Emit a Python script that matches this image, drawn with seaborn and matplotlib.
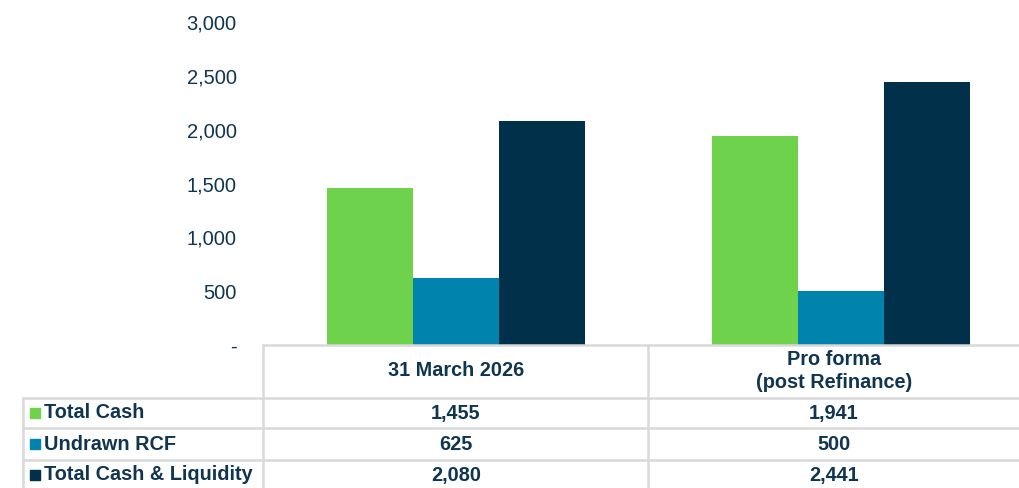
import pandas as pd
import numpy as np
import seaborn as sns
import matplotlib.pyplot as plt
from matplotlib.ticker import FuncFormatter
from matplotlib.lines import Line2D
from matplotlib.patches import Rectangle

# chart data
periods = ["31 March 2026", "Pro forma\n(post Refinance)"]
series = ["Total Cash", "Undrawn RCF", "Total Cash & Liquidity"]
total_cash = [1455, 1941]
undrawn_rcf = [625, 500]
total_liquidity = [2080, 2441]
y_ticks = [0, 500, 1000, 1500, 2000, 2500, 3000]

colors = ["#6fd24c", "#0083ad", "#00304a"]
text_col = "#0f3550"
grid_col = "#d9d9d9"

df = pd.DataFrame({
    "period": periods * 3,
    "series": np.repeat(series, len(periods)),
    "value": total_cash + undrawn_rcf + total_liquidity,
})

sns.set_style("white")
plt.rcParams["font.family"] = ["Liberation Sans", "DejaVu Sans"]

W, H = 1020, 488
fig = plt.figure(figsize=(W / 100, H / 100), dpi=100)

def fx(px):
    return px / W

def fy(py):
    return 1 - py / H

# bar axes: x 263..1020, y 22..345 (pixels)
ax = fig.add_axes([fx(263), fy(345), fx(1020 - 263), (345 - 22) / H])
sns.barplot(data=df, x="period", y="value", hue="series", palette=colors,
            width=0.67, saturation=1, linewidth=0, legend=False, ax=ax)
ax.set_ylim(0, 3000)
ax.set_xlim(-0.501, 1.465)
ax.set_yticks(y_ticks)
ax.yaxis.set_major_formatter(FuncFormatter(lambda v, p: "-" if v == 0 else f"{v:,.0f}"))
ax.tick_params(axis="y", length=0, pad=19, labelsize=14.5, labelcolor=text_col)
ax.set_xticks([])
ax.set_xlabel("")
ax.set_ylabel("")
for s in ax.spines.values():
    s.set_visible(False)

# data table below the chart
def hline(y, x0, x1):
    fig.add_artist(Line2D([fx(x0), fx(x1)], [fy(y), fy(y)], color=grid_col, lw=1.8))

def vline(x, y0, y1):
    fig.add_artist(Line2D([fx(x), fx(x)], [fy(y0), fy(y1)], color=grid_col, lw=1.8))

hline(345, 263, 1020)
for y in [398, 428, 460]:
    hline(y, 23, 1020)
vline(23, 398, 490)
vline(263, 345, 490)
vline(648, 345, 490)

col_centers = [456, 834]
for cx, label in zip(col_centers, periods):
    fig.text(fx(cx), fy(371), label, ha="center", va="center",
             fontsize=14.3, fontweight="bold", color=text_col, linespacing=1.3)

row_centers = [413, 444, 475]
row_values = [total_cash, undrawn_rcf, total_liquidity]
for cy, name, col, vals in zip(row_centers, series, colors, row_values):
    fig.add_artist(Rectangle((fx(30), fy(cy + 5)), fx(10), 10 / H, color=col))
    fig.text(fx(44), fy(cy), name, ha="left", va="center",
             fontsize=14.3, fontweight="bold", color=text_col)
    for cx, v in zip(col_centers, vals):
        fig.text(fx(cx), fy(cy), f"{v:,}", ha="center", va="center",
                 fontsize=14.3, fontweight="bold", color=text_col)

fig.savefig("out.png", dpi=100)
